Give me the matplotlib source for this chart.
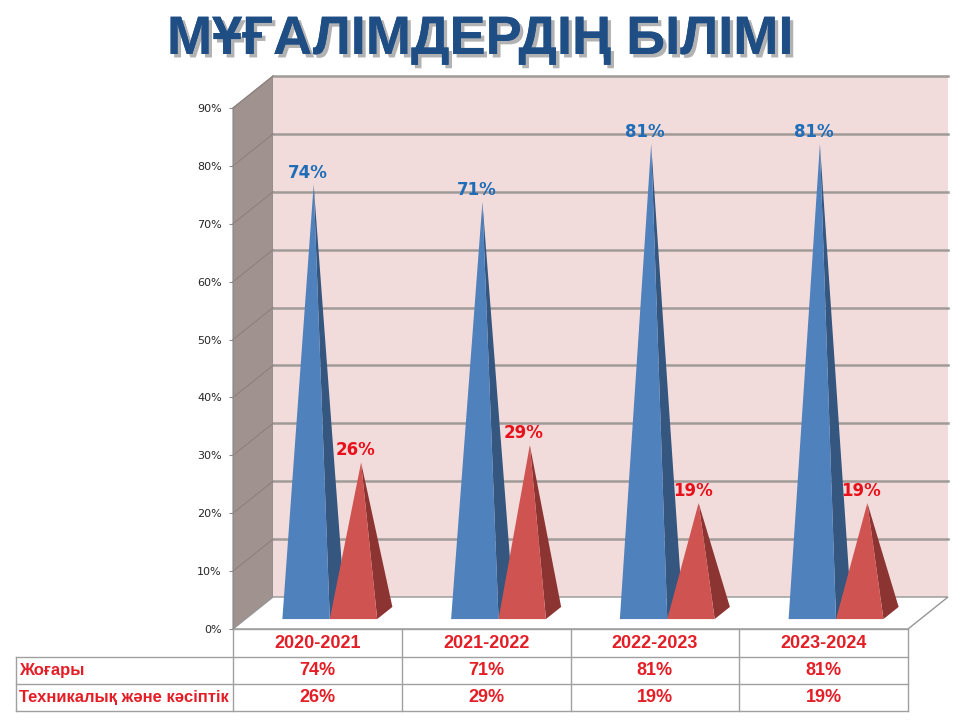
import matplotlib
matplotlib.use("Agg")
import matplotlib.pyplot as plt
from matplotlib.patches import Polygon
import matplotlib.patheffects as pe

# ---------------- data ----------------
title = "МҰҒАЛІМДЕРДІҢ БІЛІМІ"
years = ["2020-2021", "2021-2022", "2022-2023", "2023-2024"]
series_names = ["Жоғары", "Техникалық және кәсіптік"]
higher = [74, 71, 81, 81]
technical = [26, 29, 19, 19]
yticks = [0, 10, 20, 30, 40, 50, 60, 70, 80, 90]

# ---------------- style ----------------
W, H = 960, 720
fig = plt.figure(figsize=(W / 100, H / 100), dpi=100)
fig.patch.set_facecolor("white")

# front plane of the 3D chart, in pixels
X0, X1, Y0, Y1 = 233, 908, 629, 108
ax = fig.add_axes([X0 / W, (H - Y0) / H, (X1 - X0) / W, (Y0 - Y1) / H])
ax.set_xlim(0, len(years))
ax.set_ylim(0, 90)
ax.set_facecolor("none")
for s in ax.spines.values():
    s.set_visible(False)
ax.set_xticks([])
ax.set_yticks(yticks)
ax.set_yticklabels([f"{v}%" for v in yticks], fontsize=8, color="#262626")
ax.tick_params(axis="y", length=3, width=0.8, color="#8C8C8C", pad=5)

px_x = (X1 - X0) / len(years)        # pixels per category
px_y = (Y0 - Y1) / 90.0              # pixels per percent
DX = 40 / px_x                        # depth offset in data units
DY = 32 / px_y


def P(x, y, d):
    return (x + d * DX, y + d * DY)


n = len(years)
# left wall
ax.add_patch(Polygon([P(0, 0, 0), P(0, 0, 1), P(0, 90, 1), P(0, 90, 0)],
                     closed=True, facecolor="#A0928F", edgecolor="#8C8C8C",
                     lw=0.8, clip_on=False, zorder=1))
# back wall
ax.add_patch(Polygon([P(0, 0, 1), P(n, 0, 1), P(n, 90, 1), P(0, 90, 1)],
                     closed=True, facecolor="#F2DCDB", edgecolor="none",
                     clip_on=False, zorder=1))
# floor
ax.add_patch(Polygon([P(0, 0, 0), P(n, 0, 0), P(n, 0, 1), P(0, 0, 1)],
                     closed=True, facecolor="white", edgecolor="#969696",
                     lw=1.0, clip_on=False, zorder=1))
# gridlines
for v in yticks[1:]:
    ax.plot(*zip(P(0, v, 1), P(n, v, 1)), color="#A09A98", lw=1.8,
            clip_on=False, zorder=2)
    ax.plot(*zip(P(0, v, 0), P(0, v, 1)), color="#8E807D", lw=0.8,
            clip_on=False, zorder=2)
ax.plot(*zip(P(0, 0, 0), P(0, 90, 0)), color="#8C8C8C", lw=0.8,
        clip_on=False, zorder=2)

# pyramids
w = 0.281
f_d, b_d = 0.31, 0.69
colors = [("#4F81BD", "#34567F"), ("#CF5451", "#8C3431")]
label_colors = ["#1F6DB8", "#E8101A"]
for j, vals in enumerate([higher, technical]):
    for i, v in enumerate(vals):
        x0 = i + 0.5 - w + j * w
        FL = P(x0, 0, f_d)
        FR = P(x0 + w, 0, f_d)
        BR = P(x0 + w, 0, b_d)
        AP = P(x0 + w / 2, v, (f_d + b_d) / 2)
        ax.add_patch(Polygon([FR, BR, AP], closed=True,
                             facecolor=colors[j][1], edgecolor="none",
                             clip_on=False, zorder=3))
        ax.add_patch(Polygon([FL, FR, AP], closed=True,
                             facecolor=colors[j][0], edgecolor="none",
                             clip_on=False, zorder=4))
        ax.text(AP[0] - 6 / px_x, AP[1] + 12 / px_y, f"{v}%",
                ha="center", va="center", fontsize=12, fontweight="bold",
                color=label_colors[j], zorder=5,
                family=["DejaVu Sans"])

# ---------------- data table ----------------
row_px = [0, 28, 55, 82]                 # row boundaries below the front edge
rows_y = [-r / px_y for r in row_px]
left_x = (16 - X0) / px_x
tcol = "#A0A0A0"
red = "#E41E26"
tfont = ["Liberation Sans Narrow", "Liberation Sans", "DejaVu Sans"]
# horizontal lines
ax.plot([0, n], [rows_y[0]] * 2, color=tcol, lw=1, clip_on=False)
for ry in rows_y[1:]:
    ax.plot([left_x, n], [ry] * 2, color=tcol, lw=1, clip_on=False)
# vertical lines
for k in range(n + 1):
    ax.plot([k, k], [rows_y[0], rows_y[-1]], color=tcol, lw=1, clip_on=False)
ax.plot([left_x, left_x], [rows_y[1], rows_y[-1]], color=tcol, lw=1,
        clip_on=False)

def mid(a, b):
    return (a + b) / 2

for i, yr in enumerate(years):
    ax.text(i + 0.5, mid(rows_y[0], rows_y[1]), yr, ha="center", va="center",
            fontsize=13, fontweight="bold", color=red, family=tfont)
for r, (name, vals) in enumerate(zip(series_names, [higher, technical])):
    yc = mid(rows_y[r + 1], rows_y[r + 2])
    ax.text(left_x + 3 / px_x, yc, name, ha="left", va="center",
            fontsize=12, fontweight="bold", color=red, family=tfont)
    for i, v in enumerate(vals):
        ax.text(i + 0.5, yc, f"{v}%", ha="center", va="center",
                fontsize=13, fontweight="bold", color=red, family=tfont)

# ---------------- title ----------------
fig.text(0.5, 1 - 40 / H, title, ha="center", va="center", fontsize=39,
         fontweight="bold", color="#1F4E85", family=tfont,
         path_effects=[pe.withSimplePatchShadow(offset=(2.5, -2.5),
                                                shadow_rgbFace="#7F7F7F",
                                                alpha=0.6), pe.Normal()])

fig.savefig("out.png", dpi=100)
